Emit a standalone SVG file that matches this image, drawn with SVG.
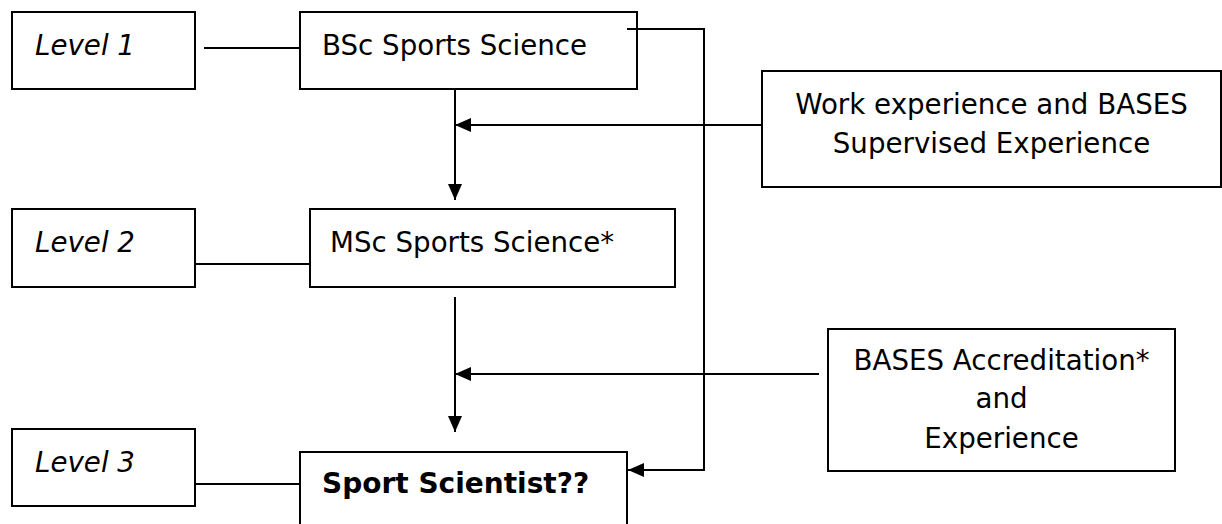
<svg xmlns="http://www.w3.org/2000/svg" width="1222" height="524" viewBox="0 0 1222 524">
<style>
  .box{fill:#fff;stroke:#000;stroke-width:2}
  .t{font-family:"DejaVu Sans","Liberation Sans",sans-serif;font-size:27.7px;fill:#000}
  .i{font-style:italic}
  .b{font-weight:bold;font-size:28px}
  .c{text-anchor:middle}
  .ln{fill:none;stroke:#000;stroke-width:2}
  .arr{marker-end:url(#ah)}
</style>
<defs>
  <marker id="ah" markerUnits="userSpaceOnUse" markerWidth="16" markerHeight="14" refX="16" refY="7" orient="auto">
    <path d="M0,0 L16,7 L0,14 z" fill="#000"/>
  </marker>
</defs>
<rect width="1222" height="524" fill="#fff"/>
<g id="connectors">
  <line class="ln" x1="204" y1="48" x2="300" y2="48"/>
  <line class="ln" x1="195" y1="264" x2="310" y2="264"/>
  <line class="ln" x1="195" y1="484" x2="300" y2="484"/>
  <line class="ln arr" x1="455" y1="89" x2="455" y2="200"/>
  <line class="ln arr" x1="762" y1="125" x2="455" y2="125"/>
  <line class="ln arr" x1="455" y1="297" x2="455" y2="432"/>
  <line class="ln arr" x1="819" y1="374" x2="455" y2="374"/>
  <path class="ln arr" d="M627,29 H704 V470 H628"/>
</g>
<g id="level1">
  <rect class="box" x="12" y="12" width="183" height="77"/>
  <text class="t i" x="35" y="55">Level 1</text>
</g>
<g id="bsc">
  <rect class="box" x="300" y="12" width="337" height="77" style="fill:none"/>
  <text class="t" x="322" y="55">BSc Sports Science</text>
</g>
<g id="work">
  <rect class="box" x="762" y="71" width="459" height="116"/>
  <text class="t c" x="991.5" y="114">Work experience and BASES</text>
  <text class="t c" x="991.5" y="153">Supervised Experience</text>
</g>
<g id="level2">
  <rect class="box" x="12" y="209" width="183" height="78"/>
  <text class="t i" x="35" y="252">Level 2</text>
</g>
<g id="msc">
  <rect class="box" x="310" y="209" width="365" height="78"/>
  <text class="t" x="330" y="252">MSc Sports Science*</text>
</g>
<g id="bases">
  <rect class="box" x="828" y="329" width="347" height="142"/>
  <text class="t c" x="1001.5" y="370">BASES Accreditation*</text>
  <text class="t c" x="1001.5" y="408">and</text>
  <text class="t c" x="1001.5" y="448">Experience</text>
</g>
<g id="level3">
  <rect class="box" x="12" y="429" width="183" height="77"/>
  <text class="t i" x="35" y="472">Level 3</text>
</g>
<g id="scientist">
  <rect class="box" x="300" y="452" width="327" height="90"/>
  <text class="t b" x="322" y="493">Sport Scientist??</text>
</g>
</svg>
